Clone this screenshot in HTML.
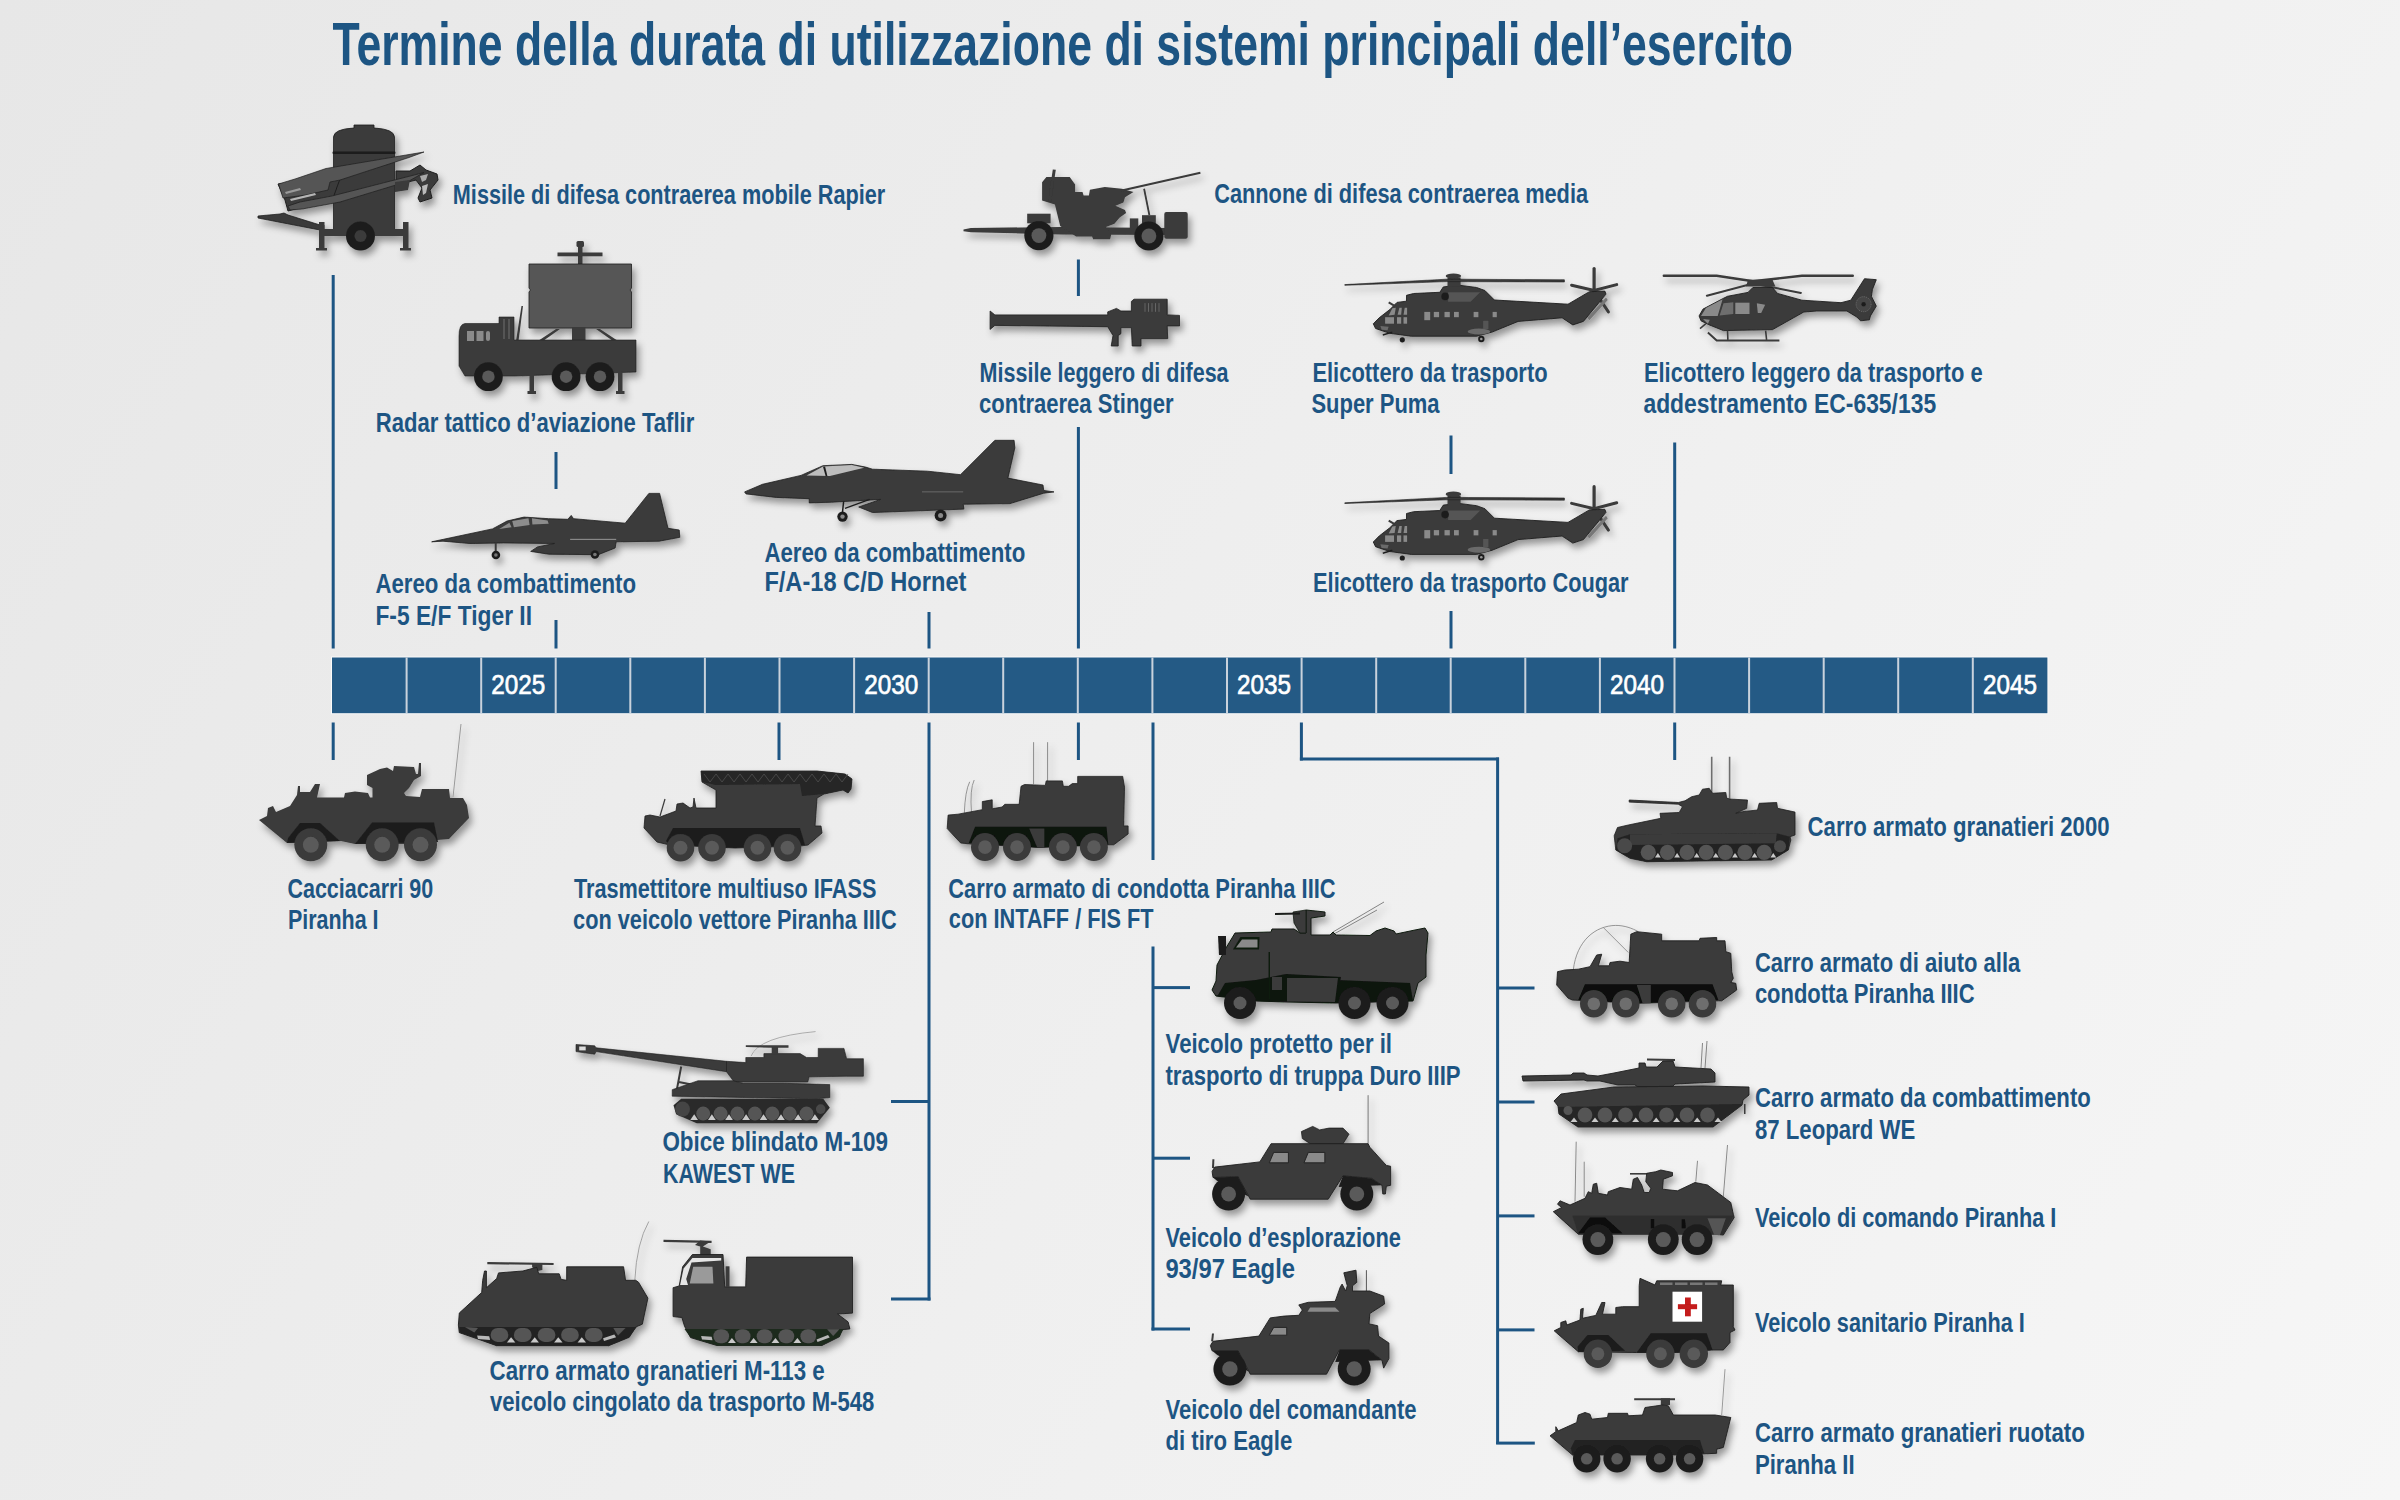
<!DOCTYPE html>
<html><head><meta charset="utf-8"><title>Termine della durata di utilizzazione</title>
<style>html,body{margin:0;padding:0;width:2400px;height:1500px;overflow:hidden;background:#eeeeee}svg{display:block}</style></head>
<body><svg width="2400" height="1500" viewBox="0 0 2400 1500">
<defs>
<linearGradient id="bg" x1="0" y1="0" x2="2400" y2="1500" gradientUnits="userSpaceOnUse">
<stop offset="0" stop-color="#e7e7e7"/><stop offset="1" stop-color="#f6f6f6"/></linearGradient>
<filter id="sh" x="-10%" y="-10%" width="130%" height="140%"><feDropShadow dx="3" dy="5" stdDeviation="3.6" flood-color="#000" flood-opacity="0.38"/></filter>
</defs>
<rect width="2400" height="1500" fill="url(#bg)"/>
<rect x="331.0" y="656.5" width="1717.4" height="57.7" fill="#fafafa"/>
<rect x="332.0" y="657.5" width="1715.4" height="55.7" fill="#245a85"/>
<rect x="405.6" y="657.5" width="2" height="55.7" fill="#c9d2dc"/>
<rect x="480.2" y="657.5" width="2" height="55.7" fill="#c9d2dc"/>
<rect x="554.7" y="657.5" width="2" height="55.7" fill="#c9d2dc"/>
<rect x="629.3" y="657.5" width="2" height="55.7" fill="#c9d2dc"/>
<rect x="703.9" y="657.5" width="2" height="55.7" fill="#c9d2dc"/>
<rect x="778.5" y="657.5" width="2" height="55.7" fill="#c9d2dc"/>
<rect x="853.1" y="657.5" width="2" height="55.7" fill="#c9d2dc"/>
<rect x="927.7" y="657.5" width="2" height="55.7" fill="#c9d2dc"/>
<rect x="1002.2" y="657.5" width="2" height="55.7" fill="#c9d2dc"/>
<rect x="1076.8" y="657.5" width="2" height="55.7" fill="#c9d2dc"/>
<rect x="1151.4" y="657.5" width="2" height="55.7" fill="#c9d2dc"/>
<rect x="1226.0" y="657.5" width="2" height="55.7" fill="#c9d2dc"/>
<rect x="1300.6" y="657.5" width="2" height="55.7" fill="#c9d2dc"/>
<rect x="1375.2" y="657.5" width="2" height="55.7" fill="#c9d2dc"/>
<rect x="1449.7" y="657.5" width="2" height="55.7" fill="#c9d2dc"/>
<rect x="1524.3" y="657.5" width="2" height="55.7" fill="#c9d2dc"/>
<rect x="1598.9" y="657.5" width="2" height="55.7" fill="#c9d2dc"/>
<rect x="1673.5" y="657.5" width="2" height="55.7" fill="#c9d2dc"/>
<rect x="1748.1" y="657.5" width="2" height="55.7" fill="#c9d2dc"/>
<rect x="1822.7" y="657.5" width="2" height="55.7" fill="#c9d2dc"/>
<rect x="1897.2" y="657.5" width="2" height="55.7" fill="#c9d2dc"/>
<rect x="1971.8" y="657.5" width="2" height="55.7" fill="#c9d2dc"/>
<text x="491.2" y="694.4" textLength="54" lengthAdjust="spacingAndGlyphs" font-size="28.5" fill="#fff" stroke="#fff" stroke-width="0.7" font-family="Liberation Sans" font-weight="normal">2025</text>
<text x="864.2" y="694.4" textLength="54" lengthAdjust="spacingAndGlyphs" font-size="28.5" fill="#fff" stroke="#fff" stroke-width="0.7" font-family="Liberation Sans" font-weight="normal">2030</text>
<text x="1237.1" y="694.4" textLength="54" lengthAdjust="spacingAndGlyphs" font-size="28.5" fill="#fff" stroke="#fff" stroke-width="0.7" font-family="Liberation Sans" font-weight="normal">2035</text>
<text x="1610.0" y="694.4" textLength="54" lengthAdjust="spacingAndGlyphs" font-size="28.5" fill="#fff" stroke="#fff" stroke-width="0.7" font-family="Liberation Sans" font-weight="normal">2040</text>
<text x="1982.9" y="694.4" textLength="54" lengthAdjust="spacingAndGlyphs" font-size="28.5" fill="#fff" stroke="#fff" stroke-width="0.7" font-family="Liberation Sans" font-weight="normal">2045</text>
<rect x="331.7" y="275.0" width="3" height="373.5" fill="#1d5583"/>
<rect x="554.5" y="452.0" width="3" height="37.0" fill="#1d5583"/>
<rect x="554.5" y="620.0" width="3" height="28.5" fill="#1d5583"/>
<rect x="927.5" y="612.0" width="3" height="36.5" fill="#1d5583"/>
<rect x="1076.9" y="259.5" width="3" height="36.5" fill="#1d5583"/>
<rect x="1076.9" y="427.0" width="3" height="221.5" fill="#1d5583"/>
<rect x="1449.5" y="435.5" width="3" height="38.5" fill="#1d5583"/>
<rect x="1449.5" y="611.0" width="3" height="37.5" fill="#1d5583"/>
<rect x="1673.2" y="442.5" width="3" height="206.0" fill="#1d5583"/>
<rect x="331.7" y="722.5" width="3" height="37.5" fill="#1d5583"/>
<rect x="777.5" y="722.5" width="3" height="37.5" fill="#1d5583"/>
<rect x="927.5" y="722.5" width="3" height="578.0" fill="#1d5583"/>
<rect x="891.0" y="1100.0" width="38.0" height="3" fill="#1d5583"/>
<rect x="891.0" y="1297.5" width="39.5" height="3" fill="#1d5583"/>
<rect x="1076.9" y="722.5" width="3" height="37.5" fill="#1d5583"/>
<rect x="1151.5" y="722.5" width="3" height="137.5" fill="#1d5583"/>
<rect x="1151.5" y="946.5" width="3" height="384.0" fill="#1d5583"/>
<rect x="1153.0" y="986.1" width="37.0" height="3" fill="#1d5583"/>
<rect x="1153.0" y="1156.7" width="37.0" height="3" fill="#1d5583"/>
<rect x="1151.5" y="1327.5" width="38.5" height="3" fill="#1d5583"/>
<rect x="1299.9" y="722.5" width="3" height="38.0" fill="#1d5583"/>
<rect x="1299.9" y="757.5" width="199.1" height="3" fill="#1d5583"/>
<rect x="1496.1" y="757.5" width="3" height="686.5" fill="#1d5583"/>
<rect x="1497.6" y="986.5" width="36.9" height="3" fill="#1d5583"/>
<rect x="1497.6" y="1100.5" width="36.9" height="3" fill="#1d5583"/>
<rect x="1497.6" y="1214.4" width="36.9" height="3" fill="#1d5583"/>
<rect x="1497.6" y="1328.4" width="36.9" height="3" fill="#1d5583"/>
<rect x="1496.1" y="1441.6" width="38.7" height="3" fill="#1d5583"/>
<rect x="1673.2" y="722.5" width="3" height="37.5" fill="#1d5583"/>
<g filter="url(#sh)">
<g><path d="M258.0,216.0 L280.0,214.0 L284.0,213.0 L288.0,215.0 L320.0,225.0 L324.0,225.0 L324.0,230.0 L320.0,230.0 L258.0,218.0 Z" fill="#3a3a3a" stroke="#1f1f1f" stroke-width="0.8"/><path d="M333.5,230 L333.5,137 Q334,129 354,128 L354,125 L374,125 L374,128 Q394,129 394.5,137 L394.5,230 Z" fill="#3a3a3a" stroke="#1f1f1f" stroke-width="0.8"/><rect x="332.5" y="151.5" width="63" height="2.5" rx="1" fill="#1f1f1f"/><rect x="320" y="229" width="88" height="7" fill="#3a3a3a"/><rect x="319" y="222" width="5.5" height="27" fill="#3a3a3a"/><rect x="316" y="248" width="11" height="2.5" fill="#3a3a3a"/><rect x="403" y="222" width="5.5" height="27" fill="#3a3a3a"/><rect x="400" y="248" width="11" height="2.5" fill="#3a3a3a"/><circle cx="360.5" cy="236" r="14.5" fill="#1f1f1f"/><circle cx="360.5" cy="236" r="6" fill="#3a3a3a"/><path d="M396.0,171.0 L410.0,171.0 L420.0,165.0 L426.0,170.0 L437.0,174.0 L438.0,180.0 L430.0,190.0 L432.0,198.0 L420.0,202.0 L418.0,198.0 L422.0,188.0 L416.0,180.0 L408.0,182.0 L396.0,182.0 Z" fill="#3a3a3a" stroke="#1f1f1f" stroke-width="1"/><path d="M420.0,176.0 L428.0,174.0 L426.0,180.0 L422.0,182.0 Z" fill="#aaa"/><path d="M422.0,186.0 L428.0,184.0 L426.0,193.0 L423.0,195.0 Z" fill="#bbb"/><path d="M278.0,184.0 L340.0,179.0 L333.0,198.0 L306.0,206.0 L288.0,211.0 L285.0,200.0 Z" fill="#3a3a3a" stroke="#1f1f1f" stroke-width="1"/><path d="M278.5,184.0 L295.0,179.0 L326.0,168.5 L424.0,152.0 L409.0,157.5 L340.0,180.0 L330.0,182.0 L328.0,190.0 L306.0,195.0 L283.0,198.0 Z" fill="#555" stroke="#1f1f1f" stroke-width="0.7"/><path d="M288.0,206.0 L300.0,202.0 L332.0,196.0 L424.0,172.5 L409.0,181.0 L340.0,202.0 L302.0,209.0 L290.0,210.0 Z" fill="#555" stroke="#1f1f1f" stroke-width="0.7"/><path d="M395.0,182.0 L410.0,180.0 L408.0,190.0 L395.0,192.0 Z" fill="#3a3a3a"/><path d="M290.0,199.0 L315.0,193.0 L316.0,195.0 L291.0,201.0 Z" fill="#b5b5b5"/><path d="M285.0,192.0 L300.0,188.0 L301.0,190.0 L286.0,194.0 Z" fill="#9a9a9a"/></g>
<g><rect x="578" y="241.5" width="4.5" height="23" fill="#3a3a3a"/><rect x="576.5" y="241" width="7.5" height="6" rx="1.5" fill="#3a3a3a"/><rect x="557.5" y="252.5" width="45" height="3.8" fill="#3a3a3a"/><path d="M529,264 L631.5,264 L631.5,288 L630,290 L631.5,292 L631.5,328 L529,328 L529,292 L530.5,290 L529,288 Z" fill="#575757" stroke="#1f1f1f" stroke-width="0.8"/><rect x="572" y="327" width="13.5" height="14" fill="#3a3a3a"/><path d="M538,341 L556,329 L560,329 L543,341 Z" fill="#3a3a3a"/><path d="M618,341 L600,329 L596,329 L613,341 Z" fill="#3a3a3a"/><path d="M516,341 L521.5,306 L523,306 L518.5,341 Z" fill="#3a3a3a"/><path d="M459,336 Q459,324 465,323.5 L499,323.5 L499,317 L514,317 L514,340 L636,340 L636,372 L515,376 L500,376 L465,376 L459,366 Z" fill="#3a3a3a" stroke="#1f1f1f" stroke-width="0.6"/><rect x="467" y="331" width="7" height="10" fill="#8a8a8a"/><rect x="476.5" y="331" width="7" height="10" fill="#8a8a8a"/><rect x="486" y="331" width="4" height="10" rx="2" fill="#8a8a8a"/><rect x="503" y="319" width="2" height="20" fill="#555"/><rect x="508" y="319" width="2" height="20" fill="#555"/><rect x="529.5" y="372" width="4.5" height="21" fill="#3a3a3a"/><rect x="527.5" y="391" width="8.5" height="3" fill="#3a3a3a"/><rect x="618" y="372" width="4.5" height="21" fill="#3a3a3a"/><rect x="616" y="391" width="8.5" height="3" fill="#3a3a3a"/><circle cx="488.4" cy="376.7" r="14.4" fill="#1f1f1f"/><circle cx="488.4" cy="376.7" r="6.2" fill="#5a5a5a"/><circle cx="566.1" cy="376.7" r="14.4" fill="#1f1f1f"/><circle cx="566.1" cy="376.7" r="6.2" fill="#5a5a5a"/><circle cx="600" cy="376.7" r="14.4" fill="#1f1f1f"/><circle cx="600" cy="376.7" r="6.2" fill="#5a5a5a"/></g>
<g><path d="M431.7,541.8 L492.5,528.9 L507.1,521.0 L524.0,517.1 L548.7,518.7 L567.9,519.3 L571.2,515.4 L573.5,518.7 L625.2,523.2 L648.9,493.4 L659.6,493.4 L668.0,528.3 L679.2,530.0 L679.8,537.3 L659.0,541.2 L616.2,541.8 L615.1,548.0 L598.2,554.7 L548.7,554.2 L530.7,551.4 L537.5,546.9 L554.4,543.5 L503.7,542.9 L470.0,543.5 L443.0,541.2 Z" fill="#3a3a3a" stroke="#1f1f1f" stroke-width="0.8"/><path d="M499.2,528.9 L509.4,522.7 L511.6,527.2 Z" fill="#8c8c8c"/><path d="M513.9,527.2 L512.2,521.0 L528.5,518.2 L529.6,524.9 Z" fill="#8c8c8c"/><path d="M532.4,524.4 L531.9,518.2 L547.6,520.4 L548.7,523.8 Z" fill="#8c8c8c"/><rect x="494.7" y="542.9" width="2" height="9" fill="#3a3a3a"/><circle cx="495.9" cy="555.0" r="4.3" fill="#1f1f1f"/><circle cx="495.9" cy="555.0" r="1.8" fill="#777"/><circle cx="594.9" cy="554.5" r="4.3" fill="#1f1f1f"/><circle cx="594.9" cy="554.5" r="1.8" fill="#777"/><rect x="570.1" y="538.8" width="46.1" height="1.2" fill="#888"/></g>
<g><path d="M744.6,491.9 L762.5,484.3 L801.0,475.4 L823.0,465.7 L851.9,464.4 L865.6,467.1 L872.5,469.2 L927.5,471.2 L960.5,474.7 L994.9,440.3 L1014.1,440.3 L1014.8,447.9 L1007.9,478.1 L1043.0,485.0 L1043.7,490.5 L1054.0,491.9 L1043.7,493.2 L1010.0,503.6 L963.2,504.2 L963.9,509.1 L872.5,512.5 L858.7,507.0 L880.7,499.4 L831.2,502.2 L809.2,502.9 L809.2,498.7 L776.2,497.4 L746.0,493.9 Z" fill="#3a3a3a" stroke="#1f1f1f" stroke-width="0.8"/><path d="M806.5,475.4 L823.0,466.4 L851.9,465.1 L864.2,467.8 L829.9,476.1 Z" fill="#bdbdbd"/><path d="M823.0,466.8 L825.1,466.4 L827.4,476.1 L825.7,476.2 Z" fill="#1f1f1f"/><path d="M843.6,501.5 L842.2,515.2 M845.0,508.4 L869.7,499.4" stroke="#1f1f1f" stroke-width="1.5" fill="none"/><circle cx="842.5" cy="516.6" r="5.2" fill="#1f1f1f"/><circle cx="842.5" cy="516.6" r="2.2" fill="#8a8a8a"/><circle cx="940.6" cy="515.5" r="6" fill="#1f1f1f"/><circle cx="940.6" cy="515.5" r="2.5" fill="#8a8a8a"/><rect x="922.0" y="491.5" width="41.2" height="0.8" fill="#777"/></g>
<g><path d="M963.5,229.6 L970.9,228.0 L1061.2,226.9 L1167.5,228.0 L1167.5,234.9 L1061.2,234.4 L970.9,232.2 L963.5,231.2 Z" fill="#3a3a3a"/><path d="M1042.1,182.3 L1046.4,177.0 L1069.7,177.0 L1075.1,184.4 L1075.1,191.9 L1082.5,191.9 L1083.6,195.6 L1088.9,195.6 L1089.9,189.7 L1104.8,187.1 L1121.8,188.7 L1133.5,191.9 L1125.0,197.2 L1123.4,202.5 L1115.4,205.7 L1125.0,209.9 L1126.1,213.1 L1119.7,217.4 L1114.4,223.7 L1105.9,226.9 L1111.2,234.4 L1110.1,239.2 L1093.1,239.2 L1092.1,236.5 L1076.1,236.5 L1060.2,225.9 L1054.9,204.6 L1042.1,200.4 Z" fill="#3a3a3a"/><path d="M1054.3,169.6 L1049.6,201.4" stroke="#3a3a3a" stroke-width="3"/><path d="M1120.7,190.8 L1200.4,172.7" stroke="#3a3a3a" stroke-width="2"/><path d="M1144.1,188.7 L1149.4,215.2" stroke="#3a3a3a" stroke-width="1.8"/><rect x="1027.2" y="213.7" width="23.4" height="9.6" fill="#3a3a3a"/><rect x="1129.8" y="218.4" width="8.5" height="10.6" fill="#3a3a3a"/><rect x="1142.0" y="215.2" width="13.8" height="8.5" fill="#3a3a3a"/><rect x="1164.3" y="212.1" width="23.4" height="26.6" rx="2" fill="#3a3a3a"/><circle cx="1038.9" cy="235.6" r="14.6" fill="#1f1f1f"/><circle cx="1038.9" cy="235.6" r="7.4" fill="#5a5a5a"/><circle cx="1148.9" cy="236.0" r="14.6" fill="#1f1f1f"/><circle cx="1148.9" cy="236.0" r="7.4" fill="#5a5a5a"/></g>
<g><path d="M990.1,311.0 L994.9,314.9 L1107.7,314.9 L1107.7,311.9 L1116.5,308.4 L1120.9,311.0 L1131.4,311.0 L1131.4,301.4 L1134.0,299.2 L1167.2,299.2 L1167.2,314.9 L1179.5,315.4 L1179.5,325.9 L1167.2,325.9 L1167.7,338.6 L1141.0,338.6 L1141.0,346.0 L1132.2,346.0 L1131.4,327.6 L1120.9,327.6 L1120.9,333.7 L1118.2,335.5 L1118.2,346.0 L1111.2,346.0 L1113.0,335.5 L1107.7,326.7 L994.9,325.4 L990.1,329.4 Z" fill="#3a3a3a" stroke="#1f1f1f" stroke-width="0.8"/><rect x="1144.5" y="303.1" width="1" height="8.7" fill="#666"/><rect x="1148.0" y="303.1" width="1" height="8.7" fill="#666"/><rect x="1151.5" y="303.1" width="1" height="8.7" fill="#666"/><rect x="1155.0" y="303.1" width="1" height="8.7" fill="#666"/><rect x="1158.5" y="303.1" width="1" height="8.7" fill="#666"/></g>
<g><path d="M1594.1,268.5 L1594.1,291.7" stroke="#3a3a3a" stroke-width="3.2" stroke-linecap="round"/><path d="M1571.6,285.2 L1594.1,290.5 L1616.7,284.6 M1594.1,290.5 L1608.4,311.9" stroke="#3a3a3a" stroke-width="3" stroke-linecap="round" fill="none"/><path d="M1373.3,323.8 L1379.2,317.8 L1389.9,309.5 L1397.0,302.4 L1406.5,301.2 L1406.5,295.3 L1413.6,293.5 L1439.8,292.3 L1443.3,286.9 L1458.8,285.2 L1476.6,287.5 L1484.9,290.5 L1494.4,300.0 L1568.0,304.2 L1589.4,291.7 L1604.8,291.1 L1606.0,294.1 L1583.4,321.4 L1572.8,324.9 L1562.1,317.8 L1518.1,321.4 L1492.0,332.1 L1476.6,336.2 L1411.3,336.2 L1389.9,333.3 L1375.6,328.5 Z" fill="#3a3a3a" stroke="#1f1f1f" stroke-width="0.9"/><path d="M1587.0,317.8 L1606.0,297.6 L1607.8,300.0 L1589.4,320.2 Z" fill="#777"/><rect x="1447.5" y="277.4" width="13.1" height="9.5" fill="#3a3a3a"/><ellipse cx="1453.4" cy="276.0" rx="7.7" ry="2.6" fill="#3a3a3a"/><path d="M1344.8,284.6 L1446.9,279.2 L1564.4,279.8 L1564.4,282.0 L1446.9,281.6 L1344.8,285.3 Z" fill="#3a3a3a" stroke="#1f1f1f" stroke-width="0.6"/><path d="M1448.1,292.3 L1480.1,292.3 L1470.6,301.8 L1448.1,301.8 Z" fill="#555"/><circle cx="1445.1" cy="296.4" r="3.8" fill="#1f1f1f"/><rect x="1424.3" y="311.9" width="5.9" height="8.3" fill="#8a8a8a"/><rect x="1433.8" y="311.9" width="5.3" height="5.3" fill="#8a8a8a"/><rect x="1444.5" y="311.9" width="5.3" height="5.3" fill="#8a8a8a"/><rect x="1454.0" y="311.9" width="4.8" height="5.3" fill="#8a8a8a"/><rect x="1473.6" y="311.9" width="4.8" height="5.3" fill="#8a8a8a"/><rect x="1492.6" y="311.9" width="4.2" height="5.3" fill="#8a8a8a"/><rect x="1385.1" y="317.2" width="8.9" height="6.5" fill="#8a8a8a"/><rect x="1397.0" y="317.2" width="4.2" height="6.5" fill="#8a8a8a"/><rect x="1403.5" y="317.2" width="3.6" height="6.5" fill="#8a8a8a"/><path d="M1388.7,315.4 L1392.3,308.3 L1395.8,307.7 L1394.6,314.8 Z" fill="#8a8a8a"/><path d="M1397.6,314.8 L1399.4,307.7 L1401.8,307.7 L1401.2,314.8 Z" fill="#8a8a8a"/><path d="M1403.5,314.8 L1404.7,307.7 L1407.1,307.7 L1407.1,314.8 Z" fill="#8a8a8a"/><ellipse cx="1478.9" cy="331.5" rx="11.3" ry="3.0" fill="#6a6a6a"/><rect x="1483.1" y="320.8" width="5.3" height="8.3" fill="#555"/><path d="M1380.4,326.1 L1388.7,326.7 L1387.5,330.3 L1381.6,329.7 Z" fill="#6a6a6a"/><circle cx="1481.3" cy="339.0" r="3.2" fill="#1f1f1f"/><circle cx="1481.3" cy="339.0" r="1.3" fill="#999"/><circle cx="1402.3" cy="339.8" r="2.6" fill="#1f1f1f"/><path d="M1382.8,335.0 L1392.3,332.1" stroke="#1f1f1f" stroke-width="1.5"/><path d="M1388.7,302.4 L1394.6,305.9" stroke="#3a3a3a" stroke-width="2"/><path d="M1594.1,486.7 L1594.1,509.9" stroke="#3a3a3a" stroke-width="3.2" stroke-linecap="round"/><path d="M1571.6,503.4 L1594.1,508.7 L1616.7,502.8 M1594.1,508.7 L1608.4,530.1" stroke="#3a3a3a" stroke-width="3" stroke-linecap="round" fill="none"/><path d="M1373.3,542.0 L1379.2,536.0 L1389.9,527.7 L1397.0,520.6 L1406.5,519.4 L1406.5,513.5 L1413.6,511.7 L1439.8,510.5 L1443.3,505.1 L1458.8,503.4 L1476.6,505.7 L1484.9,508.7 L1494.4,518.2 L1568.0,522.4 L1589.4,509.9 L1604.8,509.3 L1606.0,512.3 L1583.4,539.6 L1572.8,543.1 L1562.1,536.0 L1518.1,539.6 L1492.0,550.3 L1476.6,554.4 L1411.3,554.4 L1389.9,551.5 L1375.6,546.7 Z" fill="#3a3a3a" stroke="#1f1f1f" stroke-width="0.9"/><path d="M1587.0,536.0 L1606.0,515.8 L1607.8,518.2 L1589.4,538.4 Z" fill="#777"/><rect x="1447.5" y="495.6" width="13.1" height="9.5" fill="#3a3a3a"/><ellipse cx="1453.4" cy="494.2" rx="7.7" ry="2.6" fill="#3a3a3a"/><path d="M1344.8,502.8 L1446.9,497.4 L1564.4,498.0 L1564.4,500.2 L1446.9,499.8 L1344.8,503.5 Z" fill="#3a3a3a" stroke="#1f1f1f" stroke-width="0.6"/><path d="M1448.1,510.5 L1480.1,510.5 L1470.6,520.0 L1448.1,520.0 Z" fill="#555"/><circle cx="1445.1" cy="514.6" r="3.8" fill="#1f1f1f"/><rect x="1424.3" y="530.1" width="5.9" height="8.3" fill="#8a8a8a"/><rect x="1433.8" y="530.1" width="5.3" height="5.3" fill="#8a8a8a"/><rect x="1444.5" y="530.1" width="5.3" height="5.3" fill="#8a8a8a"/><rect x="1454.0" y="530.1" width="4.8" height="5.3" fill="#8a8a8a"/><rect x="1473.6" y="530.1" width="4.8" height="5.3" fill="#8a8a8a"/><rect x="1492.6" y="530.1" width="4.2" height="5.3" fill="#8a8a8a"/><rect x="1385.1" y="535.4" width="8.9" height="6.5" fill="#8a8a8a"/><rect x="1397.0" y="535.4" width="4.2" height="6.5" fill="#8a8a8a"/><rect x="1403.5" y="535.4" width="3.6" height="6.5" fill="#8a8a8a"/><path d="M1388.7,533.6 L1392.3,526.5 L1395.8,525.9 L1394.6,533.0 Z" fill="#8a8a8a"/><path d="M1397.6,533.0 L1399.4,525.9 L1401.8,525.9 L1401.2,533.0 Z" fill="#8a8a8a"/><path d="M1403.5,533.0 L1404.7,525.9 L1407.1,525.9 L1407.1,533.0 Z" fill="#8a8a8a"/><ellipse cx="1478.9" cy="549.7" rx="11.3" ry="3.0" fill="#6a6a6a"/><rect x="1483.1" y="539.0" width="5.3" height="8.3" fill="#555"/><path d="M1380.4,544.3 L1388.7,544.9 L1387.5,548.5 L1381.6,547.9 Z" fill="#6a6a6a"/><circle cx="1481.3" cy="557.2" r="3.2" fill="#1f1f1f"/><circle cx="1481.3" cy="557.2" r="1.3" fill="#999"/><circle cx="1402.3" cy="558.0" r="2.6" fill="#1f1f1f"/><path d="M1382.8,553.2 L1392.3,550.3" stroke="#1f1f1f" stroke-width="1.5"/><path d="M1388.7,520.6 L1394.6,524.1" stroke="#3a3a3a" stroke-width="2"/></g>
<g><path d="M1663.8,275.8 L1716.7,275.8 L1752.9,281.2 L1801.9,275.8 L1852.8,275.8" stroke="#3a3a3a" stroke-width="2.4" fill="none" stroke-linecap="round"/><path d="M1706.9,295.8 L1752.9,283.6 L1800.9,292.9" stroke="#3a3a3a" stroke-width="2" fill="none" stroke-linecap="round"/><path d="M1699.1,315.9 L1703.0,309.1 L1723.5,298.3 L1727.5,296.3 L1748.0,292.4 L1752.9,287.5 L1772.5,287.5 L1777.4,293.4 L1801.9,300.2 L1841.0,302.7 L1850.8,300.2 L1864.5,278.7 L1876.3,279.7 L1872.4,289.5 L1871.4,296.3 L1876.3,306.1 L1870.4,315.9 L1869.4,319.8 L1860.6,320.8 L1856.7,316.9 L1846.9,311.0 L1836.1,311.0 L1816.6,311.0 L1803.8,312.0 L1772.5,329.6 L1723.5,330.6 L1708.9,324.7 L1701.0,320.8 Z" fill="#3a3a3a" stroke="#1f1f1f" stroke-width="0.9"/><path d="M1748.0,279.7 L1772.5,279.7 L1775.4,286.5 L1746.1,286.5 Z" fill="#3a3a3a"/><path d="M1701.0,315.9 L1705.9,308.1 L1722.6,299.3 L1717.7,315.9 Z" fill="#8a8a8a"/><path d="M1719.6,315.4 L1723.5,303.2 L1733.3,302.2 L1733.3,314.0 Z" fill="#6e6e6e"/><rect x="1735.3" y="302.7" width="14.2" height="11.3" fill="#8a8a8a"/><path d="M1756.8,303.2 L1765.2,304.7 L1761.2,313.0 L1757.8,313.0 Z" fill="#8a8a8a"/><path d="M1703.0,318.9 L1709.8,319.8 L1707.9,323.7 Z" fill="#8a8a8a"/><path d="M1707.9,332.6 L1716.7,340.4 L1779.4,340.4" stroke="#3a3a3a" stroke-width="2" fill="none"/><path d="M1727.5,330.6 L1727.9,339.9 M1765.6,330.6 L1766.6,339.9" stroke="#3a3a3a" stroke-width="1.6" fill="none"/><path d="M1700.0,328.6 L1705.9,323.7" stroke="#3a3a3a" stroke-width="1.5" fill="none"/><circle cx="1863.6" cy="304.2" r="7.5" fill="#444" stroke="#777" stroke-width="0.8" stroke-dasharray="1.2 1"/><circle cx="1863.6" cy="304.2" r="2.2" fill="#1f1f1f"/></g>
<g><path d="M453.0,797.0 L461.0,724.0" stroke="#9a9a9a" stroke-width="1"/><path d="M259.0,820.0 L267.0,816.0 L268.0,808.0 L273.0,806.0 L276.0,812.0 L290.0,806.0 L297.0,795.0 L298.0,786.0 L300.0,786.0 L300.0,792.0 L310.0,792.0 L315.0,784.0 L320.0,784.0 L317.0,797.5 L344.0,797.5 L345.0,793.0 L355.0,791.5 L368.0,793.0 L370.0,797.5 L372.5,797.5 L372.5,788.0 L367.0,785.0 L367.0,775.0 L380.0,769.0 L387.0,767.5 L393.0,771.0 L394.0,766.0 L414.0,767.0 L416.0,774.0 L418.0,774.0 L419.0,763.0 L421.0,763.0 L421.0,776.0 L414.0,780.0 L409.0,788.0 L404.0,793.0 L406.0,796.0 L420.0,797.0 L422.0,789.0 L449.0,789.0 L450.0,798.0 L463.0,798.0 L467.0,805.0 L469.0,818.0 L449.0,839.0 L437.0,840.0 L434.0,844.0 L355.0,844.0 L341.0,841.0 L287.0,843.0 Z" fill="#3a3a3a"/><path d="M288.0,838.0 L300.0,823.0 L320.0,823.0 L340.0,841.0 L287.0,843.0 Z" fill="#1f1f1f"/><path d="M355.0,844.0 L372.0,822.5 L434.0,822.5 L438.0,842.0 Z" fill="#1f1f1f"/><circle cx="310.8" cy="844.8" r="16.5" fill="#3a3a3a"/><circle cx="310.8" cy="844.8" r="8" fill="#5a5a5a"/><circle cx="382.2" cy="844.8" r="16.5" fill="#3a3a3a"/><circle cx="382.2" cy="844.8" r="8" fill="#5a5a5a"/><circle cx="420.5" cy="844.8" r="16.5" fill="#3a3a3a"/><circle cx="420.5" cy="844.8" r="8" fill="#5a5a5a"/></g>
<g><path d="M644.0,828.0 L645.0,816.0 L650.0,815.0 L660.0,817.0 L676.0,811.0 L677.0,804.0 L683.0,803.0 L690.0,808.0 L693.0,807.0 L694.0,798.0 L696.0,808.0 L716.0,808.0 L716.0,790.0 L702.0,782.0 L701.0,771.0 L817.0,771.0 L845.0,774.0 L852.0,779.0 L851.0,789.0 L848.0,793.0 L843.0,790.0 L824.0,794.0 L817.0,798.0 L815.0,826.0 L821.0,826.0 L822.0,833.0 L808.0,845.0 L800.0,846.0 L735.0,848.0 L670.0,845.0 L657.0,842.0 Z" fill="#3a3a3a" stroke="#1f1f1f" stroke-width="0.8"/><path d="M701.0,771.0 L817.0,771.0 L845.0,774.0 L852.0,779.0 L851.0,789.0 L848.0,793.0 L843.0,790.0 L824.0,794.0 L802.0,796.0 L800.0,784.0 L716.0,785.0 L702.0,782.0 Z" fill="#262626"/><path d="M704.0,774.0 L710.0,782.0 L716.0,774.0" stroke="#555" stroke-width="0.7" fill="none"/><path d="M716.0,774.0 L722.0,782.0 L728.0,774.0" stroke="#555" stroke-width="0.7" fill="none"/><path d="M728.0,774.0 L734.0,782.0 L740.0,774.0" stroke="#555" stroke-width="0.7" fill="none"/><path d="M740.0,774.0 L746.0,782.0 L752.0,774.0" stroke="#555" stroke-width="0.7" fill="none"/><path d="M752.0,774.0 L758.0,782.0 L764.0,774.0" stroke="#555" stroke-width="0.7" fill="none"/><path d="M764.0,774.0 L770.0,782.0 L776.0,774.0" stroke="#555" stroke-width="0.7" fill="none"/><path d="M776.0,774.0 L782.0,782.0 L788.0,774.0" stroke="#555" stroke-width="0.7" fill="none"/><path d="M788.0,774.0 L794.0,782.0 L800.0,774.0" stroke="#555" stroke-width="0.7" fill="none"/><path d="M800.0,774.0 L806.0,782.0 L812.0,774.0" stroke="#555" stroke-width="0.7" fill="none"/><path d="M812.0,774.0 L818.0,782.0 L824.0,774.0" stroke="#555" stroke-width="0.7" fill="none"/><path d="M824.0,774.0 L830.0,782.0 L836.0,774.0" stroke="#555" stroke-width="0.7" fill="none"/><path d="M836.0,774.0 L842.0,782.0 L848.0,774.0" stroke="#555" stroke-width="0.7" fill="none"/><path d="M665.0,799.0 L660.0,816.0" stroke="#3a3a3a" stroke-width="1.2"/><path d="M666.0,841.0 L673.0,828.0 L800.0,828.0 L805.0,845.0 L735.0,848.0 L670.0,845.0 Z" fill="#1f1f1f"/><circle cx="680.5" cy="847.8" r="13.8" fill="#3a3a3a"/><circle cx="680.5" cy="847.8" r="7" fill="#5a5a5a"/><circle cx="712.0" cy="847.8" r="13.8" fill="#3a3a3a"/><circle cx="712.0" cy="847.8" r="7" fill="#5a5a5a"/><circle cx="757.5" cy="847.8" r="13.8" fill="#3a3a3a"/><circle cx="757.5" cy="847.8" r="7" fill="#5a5a5a"/><circle cx="787.5" cy="847.8" r="13.8" fill="#3a3a3a"/><circle cx="787.5" cy="847.8" r="7" fill="#5a5a5a"/></g>
<g><path d="M1033.6,742.2 L1033.6,784.1 M1047.6,742.2 L1047.6,781.4" stroke="#8a8a8a" stroke-width="1"/><path d="M974.2,780.0 Q969.7,789.0 971.5,813.3 M969.7,781.8 Q965.2,790.8 964.3,813.3" stroke="#8a8a8a" stroke-width="0.9" fill="none"/><path d="M947.2,828.6 L948.1,815.1 L958.0,814.2 L982.3,809.7 L982.3,801.6 L992.2,799.8 L992.2,808.8 L1002.1,807.0 L1004.8,804.3 L1019.2,804.3 L1021.0,786.3 L1024.6,784.5 L1045.3,785.4 L1046.2,780.9 L1062.4,780.9 L1063.3,786.3 L1068.7,786.3 L1072.3,783.6 L1077.7,783.6 L1077.7,776.4 L1122.7,776.4 L1124.5,787.2 L1123.6,825.9 L1128.1,825.9 L1128.1,834.0 L1113.7,844.8 L1106.5,844.8 L1039.0,847.5 L969.7,843.9 L960.7,843.0 Z" fill="#3a3a3a" stroke="#1f1f1f" stroke-width="0.8"/><path d="M968.8,843.0 L975.1,826.8 L1106.5,826.8 L1108.3,844.8 L1039.0,847.5 Z" fill="#0f120f"/><path d="M1029.1,828.6 L1044.4,828.6 L1044.4,847.5 L1037.2,847.5 Z" fill="#3a3a3a"/><circle cx="985.0" cy="847.1" r="14" fill="#3a3a3a"/><circle cx="985.0" cy="847.1" r="6.8" fill="#5a5a5a"/><circle cx="1017.0" cy="847.1" r="14" fill="#3a3a3a"/><circle cx="1017.0" cy="847.1" r="6.8" fill="#5a5a5a"/><circle cx="1062.9" cy="847.1" r="14" fill="#3a3a3a"/><circle cx="1062.9" cy="847.1" r="6.8" fill="#5a5a5a"/><circle cx="1093.9" cy="847.1" r="14" fill="#3a3a3a"/><circle cx="1093.9" cy="847.1" r="6.8" fill="#5a5a5a"/></g>
<g><path d="M1711.7,756.7 L1711.7,793.3 M1729.6,756.7 L1729.6,798.3" stroke="#6e6e6e" stroke-width="1.6"/><path d="M1614.2,835.8 L1617.5,827.5 L1628.3,825.0 L1660.8,818.3 L1660.0,813.3 L1679.2,812.5 L1682.5,806.7 L1678.3,804.2 L1629.2,802.1 L1629.2,800.0 L1678.3,802.5 L1685.0,800.8 L1691.7,796.7 L1699.2,795.0 L1702.5,789.2 L1709.2,788.3 L1712.5,793.3 L1725.8,792.5 L1726.7,798.3 L1731.7,799.2 L1747.5,800.0 L1746.7,808.3 L1735.8,813.3 L1742.5,811.7 L1757.5,810.0 L1759.2,803.3 L1776.7,802.5 L1777.5,808.3 L1795.0,812.1 L1795.0,835.0 L1790.0,836.7 L1790.8,840.0 L1788.3,850.0 L1771.7,860.0 L1646.7,861.7 L1630.0,858.3 L1615.8,850.0 Z" fill="#3a3a3a" stroke="#1f1f1f" stroke-width="0.8"/><path d="M1615.8,850.0 L1617.5,838.3 L1630.0,834.2 L1776.7,833.3 L1790.0,836.7 L1788.3,850.0 L1771.7,860.0 L1646.7,861.7 L1630.0,858.3 Z" fill="#242424"/><path d="M1630.0,834.2 L1776.7,833.3 L1775.8,843.3 L1630.0,845.0 Z" fill="#3a3a3a"/><circle cx="1648.3" cy="852.3" r="7.6" fill="#555"/><circle cx="1667.5" cy="852.3" r="7.6" fill="#555"/><circle cx="1687.1" cy="852.3" r="7.6" fill="#555"/><circle cx="1706.2" cy="852.3" r="7.6" fill="#555"/><circle cx="1725.4" cy="852.3" r="7.6" fill="#555"/><circle cx="1745.0" cy="852.3" r="7.6" fill="#555"/><circle cx="1764.2" cy="852.3" r="7.6" fill="#555"/><path d="M1657.9,852.9 L1660.8,857.5 L1655.0,857.5 Z" fill="#c9c9c9"/><path d="M1677.1,852.9 L1680.0,857.5 L1674.2,857.5 Z" fill="#c9c9c9"/><path d="M1696.7,852.9 L1699.6,857.5 L1693.8,857.5 Z" fill="#c9c9c9"/><path d="M1715.8,852.9 L1718.8,857.5 L1712.9,857.5 Z" fill="#c9c9c9"/><path d="M1735.0,852.9 L1737.9,857.5 L1732.1,857.5 Z" fill="#c9c9c9"/><path d="M1754.6,852.9 L1757.5,857.5 L1751.7,857.5 Z" fill="#c9c9c9"/><path d="M1773.3,852.9 L1776.2,857.5 L1770.4,857.5 Z" fill="#c9c9c9"/><circle cx="1624.6" cy="845.8" r="7.5" fill="#4a4a4a"/><circle cx="1780.0" cy="846.2" r="6" fill="#4a4a4a"/></g>
<g><path d="M1333.0,932.0 L1384.0,902.0 M1334.0,934.0 L1377.0,910.0" stroke="#777" stroke-width="0.9"/><path d="M1212.0,990.0 L1216.0,981.0 L1217.0,965.0 L1226.0,948.0 L1235.0,933.0 L1271.0,932.0 L1272.0,929.0 L1294.0,929.0 L1300.0,933.0 L1306.0,933.0 L1306.0,910.0 L1325.0,912.0 L1325.0,916.0 L1311.0,918.0 L1311.0,935.0 L1330.0,935.0 L1333.0,932.0 L1336.0,935.0 L1370.0,935.5 L1376.0,931.0 L1385.0,928.0 L1394.0,931.0 L1396.0,934.0 L1415.0,930.0 L1425.0,928.0 L1428.0,933.0 L1426.0,955.0 L1426.0,977.0 L1418.0,983.0 L1413.0,1001.0 L1336.0,1003.0 L1287.0,1002.0 L1256.0,1001.0 L1216.0,996.0 Z" fill="#3a3a3a" stroke="#111a11" stroke-width="1"/><path d="M1293.0,912.0 L1306.0,910.0 L1306.0,933.0 L1300.0,933.0 L1294.0,923.0 Z" fill="#3a3a3a" stroke="#111a11" stroke-width="0.8"/><path d="M1275.0,914.0 L1300.0,913.5" stroke="#1a1f1a" stroke-width="2"/><path d="M1218.0,936.0 L1226.0,936.0 L1226.0,955.0 L1219.0,955.0 Z" fill="#1f1f1f"/><path d="M1233.0,949.5 L1240.5,937.0 L1259.5,937.0 L1259.0,949.5 Z" fill="#111a11"/><path d="M1236.0,947.5 L1242.0,939.5 L1257.5,939.5 L1257.5,947.5 Z" fill="#8a8a8a"/><path d="M1218.0,995.0 L1225.0,983.0 L1256.0,980.0 L1256.0,1001.0 L1216.0,996.0 Z" fill="#0f130f"/><path d="M1337.0,980.0 L1410.0,983.0 L1413.0,1001.0 L1336.0,1003.0 Z" fill="#0f130f"/><path d="M1256.0,980.0 L1286.0,974.0 L1341.0,977.0 L1336.0,1003.0 L1256.0,1001.0 Z" fill="#0f130f"/><path d="M1287.0,978.0 L1338.0,978.0 L1335.0,1002.0 L1287.0,1001.5 Z" fill="#3a3a3a"/><rect x="1272.0" y="977.0" width="10.0" height="13.0" fill="#3a3a3a"/><rect x="1268.5" y="952.0" width="1.5" height="47.0" fill="#111a11"/><circle cx="1240.0" cy="1003.0" r="16" fill="#1c1c1c"/><circle cx="1240.0" cy="1003.0" r="6.5" fill="#5a5a5a"/><circle cx="1354.5" cy="1003.0" r="16" fill="#1c1c1c"/><circle cx="1354.5" cy="1003.0" r="6.5" fill="#5a5a5a"/><circle cx="1392.5" cy="1003.0" r="16" fill="#1c1c1c"/><circle cx="1392.5" cy="1003.0" r="6.5" fill="#5a5a5a"/></g>
<g><path d="M751.0,1056.2 Q758.7,1036.8 815.6,1031.6" stroke="#9a9a9a" stroke-width="0.8" fill="none"/><path d="M681.2,1066.5 L676.7,1090.4 M678.7,1082.0 L691.6,1084.6" stroke="#3a3a3a" stroke-width="2" fill="none"/><path d="M576.0,1044.5 L594.7,1045.8 L596.0,1047.8 L726.5,1061.3 L726.5,1071.7 L596.0,1051.6 L594.7,1054.2 L576.0,1051.6 Z" fill="#3a3a3a" stroke="#1f1f1f" stroke-width="0.6"/><path d="M579.2,1046.5 L585.7,1046.5 L585.7,1050.4 L579.2,1050.4 Z" fill="#ddd"/><path d="M745.8,1045.2 L788.5,1045.2 L788.5,1047.8 L778.1,1047.8 L778.1,1053.6 L771.7,1053.6 L771.7,1047.8 L745.8,1047.1 Z" fill="#3a3a3a"/><path d="M726.5,1061.3 L745.8,1062.6 L745.8,1057.5 L763.9,1057.5 L763.9,1053.6 L800.1,1053.6 L806.5,1057.5 L818.2,1057.5 L818.2,1048.4 L844.0,1048.4 L846.6,1058.7 L863.4,1058.7 L863.4,1076.2 L846.6,1076.2 L809.1,1076.8 L807.8,1082.0 L784.6,1082.0 L743.2,1082.0 L734.2,1082.0 L726.5,1071.7 Z" fill="#3a3a3a" stroke="#1f1f1f" stroke-width="0.6"/><path d="M672.2,1089.7 L698.0,1080.7 L732.9,1080.7 L743.2,1083.3 L784.6,1083.3 L829.8,1084.6 L829.8,1097.5 L816.9,1098.8 L672.2,1096.2 Z" fill="#3a3a3a" stroke="#1f1f1f" stroke-width="0.6"/><path d="M673.5,1105.2 L681.2,1098.8 L823.3,1098.8 L829.8,1107.8 L816.9,1123.3 L696.7,1123.3 L676.1,1114.3 Z" fill="#2a2a2a"/><circle cx="703.2" cy="1113.6" r="7" fill="#555"/><circle cx="720.6" cy="1113.6" r="7" fill="#555"/><circle cx="737.4" cy="1113.6" r="7" fill="#555"/><circle cx="754.9" cy="1113.6" r="7" fill="#555"/><circle cx="772.3" cy="1113.6" r="7" fill="#555"/><circle cx="789.7" cy="1113.6" r="7" fill="#555"/><circle cx="806.5" cy="1113.6" r="7" fill="#555"/><path d="M694.2,1114.3 L698.0,1120.1 L690.3,1120.1 Z" fill="#c9c9c9"/><path d="M711.9,1114.3 L715.7,1120.1 L708.0,1120.1 Z" fill="#c9c9c9"/><path d="M729.0,1114.3 L732.9,1120.1 L725.2,1120.1 Z" fill="#c9c9c9"/><path d="M746.1,1114.3 L750.0,1120.1 L742.2,1120.1 Z" fill="#c9c9c9"/><path d="M763.5,1114.3 L767.4,1120.1 L759.7,1120.1 Z" fill="#c9c9c9"/><path d="M781.0,1114.3 L784.8,1120.1 L777.1,1120.1 Z" fill="#c9c9c9"/><path d="M798.1,1114.3 L802.0,1120.1 L794.3,1120.1 Z" fill="#c9c9c9"/><path d="M814.9,1114.3 L818.8,1120.1 L811.1,1120.1 Z" fill="#c9c9c9"/><circle cx="682.5" cy="1109.1" r="7.5" fill="#444"/><circle cx="820.7" cy="1109.1" r="4.8" fill="#4a4a4a"/></g>
<g><path d="M634.8,1280.3 Q636.7,1243.0 648.8,1221.5" stroke="#9a9a9a" stroke-width="0.9" fill="none"/><path d="M487.3,1263.1 L553.6,1264.0" stroke="#3a3a3a" stroke-width="2.2"/><path d="M532.1,1263.5 L542.4,1263.5 L542.4,1270.1 L537.7,1271.0 L532.1,1267.3 Z" fill="#3a3a3a"/><path d="M458.4,1325.1 L459.3,1313.0 L481.7,1292.5 L482.7,1280.3 L484.5,1271.0 L486.4,1271.0 L486.4,1287.8 L496.7,1278.5 L498.5,1272.9 L522.8,1271.0 L536.8,1267.3 L538.7,1273.8 L559.2,1273.8 L561.1,1279.4 L566.7,1280.3 L566.7,1266.8 L623.6,1266.8 L625.5,1280.3 L635.7,1280.3 L638.5,1282.2 L647.9,1298.1 L642.3,1324.2 L635.7,1327.0 L629.2,1337.3 L608.7,1345.7 L496.7,1345.7 L478.0,1339.1 L459.3,1332.6 Z" fill="#3a3a3a" stroke="#1f1f1f" stroke-width="0.9"/><path d="M459.3,1327.0 L636.7,1327.0 L629.2,1337.3 L608.7,1345.7 L496.7,1345.7 L478.0,1339.1 L459.3,1332.6 Z" fill="#242424"/><rect x="490.6" y="1327.9" width="17.7" height="14.0" rx="7" fill="#555"/><rect x="513.9" y="1327.9" width="17.7" height="14.0" rx="7" fill="#555"/><rect x="537.7" y="1327.9" width="17.7" height="14.0" rx="7" fill="#555"/><rect x="561.1" y="1327.9" width="17.7" height="14.0" rx="7" fill="#555"/><rect x="584.9" y="1327.9" width="17.7" height="14.0" rx="7" fill="#555"/><path d="M613.3,1327.9 L625.5,1327.9 L618.0,1335.4 Z" fill="#555"/><path d="M511.1,1337.3 L515.3,1342.4 L506.9,1342.4 Z" fill="#c9c9c9"/><path d="M534.7,1337.3 L538.9,1342.4 L530.5,1342.4 Z" fill="#c9c9c9"/><path d="M558.3,1337.3 L562.5,1342.4 L554.1,1342.4 Z" fill="#c9c9c9"/><path d="M581.8,1337.3 L586.0,1342.4 L577.6,1342.4 Z" fill="#c9c9c9"/><path d="M477.1,1335.4 L489.2,1336.3 L490.1,1340.1 L478.0,1339.1 Z" fill="#b8b8b8"/><path d="M603.1,1338.2 L614.3,1334.5 L616.1,1337.3 L604.0,1341.0 Z" fill="#b8b8b8"/><path d="M464.9,1327.0 L478.0,1327.9 L474.3,1332.6 Z" fill="#555"/><path d="M663.5,1240.9 L711.6,1241.8" stroke="#3a3a3a" stroke-width="2.2"/><path d="M695.0,1244.9 L700.2,1240.5 L710.7,1241.4 L702.9,1246.6 L710.7,1249.2 L710.7,1255.4 L700.2,1255.4 L700.2,1246.6 Z" fill="#3a3a3a"/><path d="M673.1,1316.6 L673.1,1287.7 L679.2,1286.0 L682.7,1266.7 L692.4,1254.5 L723.0,1254.5 L724.7,1286.9 L745.7,1286.9 L746.6,1257.1 L852.5,1257.1 L852.5,1313.1 L837.6,1314.0 L848.1,1321.9 L849.9,1328.9 L842.0,1329.7 L839.4,1336.7 L821.9,1345.5 L716.9,1345.5 L690.6,1337.6 L684.5,1326.2 L681.9,1317.5 Z" fill="#3a3a3a" stroke="#1f1f1f" stroke-width="0.9"/><path d="M680.1,1285.1 L683.6,1268.5 L692.4,1258.0 L721.2,1258.0 L721.2,1260.6 L691.5,1262.4 L686.2,1279.0 L688.0,1285.1 Z" fill="#e6e6e6"/><path d="M689.7,1283.4 L693.2,1266.7 L712.5,1266.7 L713.4,1283.4 Z" fill="#9a9a9a"/><rect x="725.6" y="1266.3" width="3.9" height="21.0" fill="#3a3a3a"/><path d="M684.5,1328.9 L843.7,1328.9 L839.4,1336.7 L821.9,1345.5 L716.9,1345.5 L690.6,1337.6 Z" fill="#1f2a1f"/><rect x="713.4" y="1329.3" width="15.7" height="14.0" rx="7" fill="#555"/><rect x="734.8" y="1329.3" width="15.7" height="14.0" rx="7" fill="#555"/><rect x="756.7" y="1329.3" width="15.7" height="14.0" rx="7" fill="#555"/><rect x="778.5" y="1329.3" width="15.7" height="14.0" rx="7" fill="#555"/><rect x="800.4" y="1329.3" width="15.7" height="14.0" rx="7" fill="#555"/><path d="M827.1,1329.3 L839.4,1329.3 L833.2,1335.9 Z" fill="#555"/><path d="M731.9,1338.0 L735.9,1342.9 L728.0,1342.9 Z" fill="#c9c9c9"/><path d="M753.6,1338.0 L757.6,1342.9 L749.7,1342.9 Z" fill="#c9c9c9"/><path d="M775.5,1338.0 L779.4,1342.9 L771.5,1342.9 Z" fill="#c9c9c9"/><path d="M797.4,1338.0 L801.3,1342.9 L793.4,1342.9 Z" fill="#c9c9c9"/><path d="M701.1,1335.9 L711.6,1336.7 L712.5,1340.2 L702.0,1339.4 Z" fill="#b8b8b8"/><path d="M816.6,1339.4 L828.0,1335.0 L829.7,1337.6 L817.5,1342.0 Z" fill="#b8b8b8"/></g>
<g><path d="M1368.1,1095.2 L1368.1,1143.7" stroke="#777" stroke-width="1"/><path d="M1301.4,1131.6 L1312.7,1126.4 L1319.6,1129.9 L1329.1,1128.1 L1343.0,1128.1 L1349.0,1134.2 L1343.0,1143.7 L1310.1,1143.7 L1302.3,1138.5 Z" fill="#3a3a3a" stroke="#1f1f1f" stroke-width="0.8"/><path d="M1212.1,1171.5 L1214.7,1167.1 L1259.8,1161.9 L1271.1,1143.7 L1368.1,1143.7 L1369.8,1147.2 L1386.3,1165.4 L1390.6,1166.3 L1390.6,1185.3 L1386.3,1186.2 L1385.4,1194.0 L1382.8,1194.0 L1382.0,1185.3 L1371.6,1178.4 L1343.0,1175.8 L1328.2,1199.2 L1250.3,1199.2 L1238.1,1176.7 L1213.0,1177.5 Z" fill="#3a3a3a" stroke="#1f1f1f" stroke-width="0.9"/><path d="M1213.0,1177.5 L1238.1,1176.7 L1248.5,1196.6 L1217.3,1181.0 Z" fill="#1f1f1f"/><path d="M1343.0,1175.8 L1371.6,1178.4 L1382.0,1185.3 L1338.6,1187.1 Z" fill="#1f1f1f"/><path d="M1213.4,1159.3 L1213.0,1168.0" stroke="#3a3a3a" stroke-width="2"/><path d="M1269.3,1162.8 L1273.7,1152.4 L1288.4,1152.4 L1288.4,1162.8 Z" fill="#8a8a8a" stroke="#1f1f1f" stroke-width="0.9"/><path d="M1304.0,1162.8 L1308.3,1152.4 L1324.8,1152.4 L1324.8,1162.8 Z" fill="#8a8a8a" stroke="#1f1f1f" stroke-width="0.9"/><circle cx="1228.6" cy="1194.0" r="16.5" fill="#1c1c1c"/><circle cx="1228.6" cy="1194.0" r="7.4" fill="#5a5a5a"/><circle cx="1356.8" cy="1194.0" r="16.5" fill="#1c1c1c"/><circle cx="1356.8" cy="1194.0" r="7.4" fill="#5a5a5a"/><path d="M1366.4,1270.2 L1366.4,1317.0" stroke="#555" stroke-width="1"/><path d="M1210.4,1345.6 L1213.0,1341.3 L1258.9,1336.1 L1270.2,1317.9 L1284.1,1316.1 L1298.8,1315.3 L1302.3,1310.1 L1298.8,1304.9 L1308.3,1302.3 L1335.2,1301.4 L1340.4,1286.7 L1342.1,1284.1 L1345.6,1291.0 L1347.3,1285.8 L1343.8,1272.8 L1356.0,1270.2 L1356.8,1282.3 L1352.5,1285.8 L1352.5,1291.0 L1369.8,1291.0 L1383.7,1296.2 L1384.6,1304.0 L1369.8,1313.5 L1369.0,1323.9 L1377.6,1325.7 L1378.5,1336.1 L1388.9,1343.0 L1388.9,1358.6 L1383.7,1368.1 L1382.0,1360.3 L1369.0,1349.9 L1339.5,1349.9 L1326.5,1374.2 L1250.3,1374.2 L1238.1,1350.8 L1212.1,1350.8 Z" fill="#3a3a3a" stroke="#1f1f1f" stroke-width="0.9"/><path d="M1212.1,1350.8 L1238.1,1350.8 L1248.5,1371.6 L1217.3,1355.1 Z" fill="#1f1f1f"/><path d="M1339.5,1349.9 L1369.0,1349.9 L1382.0,1360.3 L1335.2,1362.1 Z" fill="#1f1f1f"/><path d="M1213.0,1333.5 L1212.1,1341.3" stroke="#3a3a3a" stroke-width="2"/><path d="M1269.3,1335.2 L1273.7,1327.4 L1286.7,1327.4 L1286.7,1335.2 Z" fill="#8a8a8a" stroke="#1f1f1f" stroke-width="0.9"/><path d="M1307.5,1311.8 L1310.1,1307.5 L1335.2,1307.5 L1339.5,1311.8 Z" fill="#8a8a8a"/><circle cx="1229.9" cy="1369.0" r="16.5" fill="#1c1c1c"/><circle cx="1229.9" cy="1369.0" r="7.7" fill="#5a5a5a"/><circle cx="1354.2" cy="1369.0" r="16.5" fill="#1c1c1c"/><circle cx="1354.2" cy="1369.0" r="7.7" fill="#5a5a5a"/></g>
<g><path d="M1573.3,970.0 C1576.7,940.8 1595.0,925.8 1615.8,925.4 C1624.2,925.4 1632.5,928.3 1638.3,931.7 M1603.3,927.5 L1628.3,952.5" stroke="#8a8a8a" stroke-width="0.9" fill="none"/><path d="M1556.7,985.0 L1557.5,971.7 L1565.0,970.0 L1578.3,969.2 L1590.0,966.7 L1596.7,955.0 L1601.7,954.2 L1598.3,965.8 L1609.2,965.8 L1610.0,962.5 L1620.0,961.2 L1629.2,962.5 L1630.8,934.2 L1636.7,931.7 L1661.7,934.2 L1661.7,940.8 L1699.2,940.8 L1700.0,938.3 L1716.7,937.5 L1716.7,940.8 L1725.0,940.8 L1725.8,951.7 L1730.8,953.3 L1731.7,971.7 L1733.3,978.3 L1730.8,982.5 L1735.8,983.3 L1736.7,990.0 L1721.7,1000.8 L1718.3,1000.8 L1636.7,1003.3 L1572.5,1000.0 L1568.3,998.3 Z" fill="#3a3a3a" stroke="#1f1f1f" stroke-width="0.9"/><path d="M1578.3,1000.0 L1585.0,984.2 L1712.5,984.2 L1718.3,1000.0 L1636.7,1003.3 Z" fill="#070a07"/><path d="M1636.7,985.0 L1650.8,985.0 L1650.8,1003.3 L1642.5,1003.3 Z" fill="#3a3a3a"/><circle cx="1593.8" cy="1003.8" r="13.8" fill="#3a3a3a"/><circle cx="1593.8" cy="1003.8" r="6.3" fill="#6e6e6e"/><circle cx="1625.8" cy="1003.8" r="13.8" fill="#3a3a3a"/><circle cx="1625.8" cy="1003.8" r="6.3" fill="#6e6e6e"/><circle cx="1671.7" cy="1003.8" r="13.8" fill="#3a3a3a"/><circle cx="1671.7" cy="1003.8" r="6.3" fill="#6e6e6e"/><circle cx="1702.5" cy="1003.8" r="13.8" fill="#3a3a3a"/><circle cx="1702.5" cy="1003.8" r="6.3" fill="#6e6e6e"/></g>
<g><path d="M1702.5,1043.0 L1701.0,1068.0 M1707.0,1041.0 L1705.0,1068.0" stroke="#777" stroke-width="0.9"/><path d="M1647.0,1058.5 L1675.0,1059.0 L1675.0,1061.0 L1647.0,1060.5 Z" fill="#3a3a3a"/><path d="M1522.0,1076.0 L1571.0,1075.0 L1573.0,1073.0 L1584.0,1073.0 L1587.0,1075.0 L1598.0,1076.0 L1614.0,1073.0 L1639.0,1068.0 L1639.0,1063.0 L1645.0,1063.0 L1646.0,1067.0 L1657.0,1067.0 L1663.0,1061.0 L1673.0,1061.0 L1675.0,1067.0 L1711.0,1069.0 L1715.0,1073.0 L1715.0,1082.0 L1675.0,1084.0 L1672.0,1087.0 L1638.0,1087.0 L1635.0,1085.0 L1618.0,1085.0 L1600.0,1081.0 L1587.0,1081.0 L1584.0,1080.0 L1523.0,1081.0 Z" fill="#3a3a3a" stroke="#1f1f1f" stroke-width="0.9"/><path d="M1554.0,1101.0 L1561.0,1094.0 L1614.0,1087.0 L1703.0,1086.0 L1749.0,1087.0 L1749.0,1095.0 L1743.0,1100.0 L1742.0,1105.0 L1713.0,1127.0 L1578.0,1127.0 L1559.0,1114.0 L1558.0,1106.0 Z" fill="#3a3a3a" stroke="#1f1f1f" stroke-width="0.9"/><path d="M1558.0,1107.0 L1741.0,1104.0 L1742.0,1105.0 L1713.0,1127.0 L1578.0,1127.0 L1559.0,1114.0 Z" fill="#262626"/><path d="M1574.0,1117.5 L1577.5,1122.0 L1570.5,1122.0 Z" fill="#c9c9c9"/><path d="M1595.0,1117.5 L1598.5,1122.0 L1591.5,1122.0 Z" fill="#c9c9c9"/><path d="M1615.3,1117.5 L1618.8,1122.0 L1611.8,1122.0 Z" fill="#c9c9c9"/><path d="M1635.7,1117.5 L1639.2,1122.0 L1632.2,1122.0 Z" fill="#c9c9c9"/><path d="M1656.2,1117.5 L1659.7,1122.0 L1652.7,1122.0 Z" fill="#c9c9c9"/><path d="M1676.7,1117.5 L1680.2,1122.0 L1673.2,1122.0 Z" fill="#c9c9c9"/><path d="M1697.2,1117.5 L1700.7,1122.0 L1693.7,1122.0 Z" fill="#c9c9c9"/><path d="M1718.0,1117.5 L1721.5,1122.0 L1714.5,1122.0 Z" fill="#c9c9c9"/><circle cx="1568.0" cy="1110.5" r="4.5" fill="#555"/><circle cx="1585.0" cy="1115.0" r="7.4" fill="#555"/><circle cx="1605.0" cy="1115.0" r="7.4" fill="#555"/><circle cx="1625.5" cy="1115.0" r="7.4" fill="#555"/><circle cx="1646.0" cy="1115.0" r="7.4" fill="#555"/><circle cx="1666.5" cy="1115.0" r="7.4" fill="#555"/><circle cx="1687.0" cy="1115.0" r="7.4" fill="#555"/><circle cx="1707.5" cy="1115.0" r="7.4" fill="#555"/><rect x="1744.0" y="1104.0" width="1.5" height="10" fill="#3a3a3a"/></g>
<g><path d="M1576.2,1141.7 L1575.0,1201.7" stroke="#8a8a8a" stroke-width="1"/><path d="M1584.2,1161.7 L1584.2,1196.7" stroke="#8a8a8a" stroke-width="1"/><path d="M1697.5,1160.8 L1695.8,1181.7" stroke="#8a8a8a" stroke-width="1"/><path d="M1727.5,1145.0 L1723.3,1196.7" stroke="#8a8a8a" stroke-width="1"/><path d="M1630.0,1173.8 L1655.8,1173.8" stroke="#3a3a3a" stroke-width="1.6"/><path d="M1553.3,1211.7 L1561.7,1207.5 L1557.5,1204.2 L1560.0,1200.8 L1570.0,1205.0 L1585.0,1198.3 L1588.3,1191.7 L1591.7,1193.3 L1593.3,1184.2 L1596.7,1183.3 L1598.3,1193.3 L1607.5,1195.0 L1608.3,1191.7 L1620.0,1187.5 L1631.7,1189.2 L1633.3,1179.2 L1637.5,1177.5 L1641.7,1185.0 L1644.2,1192.5 L1649.2,1192.5 L1650.8,1188.3 L1645.8,1181.7 L1646.7,1173.3 L1655.8,1171.7 L1660.8,1170.0 L1672.5,1172.5 L1672.5,1175.8 L1663.3,1179.2 L1662.5,1189.2 L1677.5,1190.8 L1695.0,1182.5 L1707.5,1185.0 L1724.2,1197.5 L1730.8,1202.5 L1733.3,1214.2 L1734.2,1217.5 L1723.3,1235.0 L1713.3,1234.2 L1678.3,1234.2 L1578.3,1234.2 Z" fill="#3a3a3a" stroke="#1f1f1f" stroke-width="0.9"/><path d="M1572.5,1215.8 L1733.3,1215.8 L1723.3,1235.0 L1713.3,1234.2 L1678.3,1234.2 L1578.3,1234.2 Z" fill="#2e2e2e"/><path d="M1578.3,1233.3 L1590.0,1217.5 L1605.0,1217.5 L1622.5,1233.3 Z" fill="#0a0a0a"/><path d="M1707.5,1218.3 L1725.8,1218.3 L1720.0,1235.0 L1714.2,1235.0 Z" fill="#555"/><path d="M1650.8,1219.2 L1654.2,1219.2 L1654.2,1228.3 L1650.8,1228.3 Z" fill="#0a0a0a"/><path d="M1681.7,1219.2 L1685.0,1219.2 L1685.8,1228.3 L1681.7,1228.3 Z" fill="#0a0a0a"/><circle cx="1597.9" cy="1239.6" r="15.4" fill="#1c1c1c"/><circle cx="1597.9" cy="1239.6" r="7.5" fill="#5a5a5a"/><circle cx="1663.3" cy="1239.6" r="15.4" fill="#1c1c1c"/><circle cx="1663.3" cy="1239.6" r="7.5" fill="#5a5a5a"/><circle cx="1697.1" cy="1239.6" r="15.4" fill="#1c1c1c"/><circle cx="1697.1" cy="1239.6" r="7.5" fill="#5a5a5a"/></g>
<g><path d="M1554.2,1330.8 L1560.8,1327.5 L1560.8,1322.5 L1565.8,1320.8 L1566.7,1325.0 L1580.0,1320.0 L1580.8,1309.2 L1583.3,1308.3 L1582.5,1318.3 L1595.8,1315.4 L1601.7,1302.5 L1605.0,1302.5 L1602.5,1314.2 L1615.8,1314.2 L1615.8,1307.5 L1622.5,1306.7 L1639.2,1306.7 L1639.2,1285.8 L1640.0,1278.3 L1655.0,1285.0 L1656.7,1280.8 L1721.7,1280.8 L1720.8,1285.0 L1733.3,1285.0 L1733.3,1326.7 L1735.0,1330.0 L1730.0,1332.5 L1730.0,1342.5 L1723.3,1350.0 L1711.7,1350.0 L1676.7,1352.5 L1636.7,1352.5 L1578.3,1351.7 Z" fill="#3a3a3a" stroke="#1f1f1f" stroke-width="0.9"/><rect x="1660.0" y="1282.5" width="12.5" height="2.5" fill="#777"/><rect x="1675.0" y="1282.5" width="12.5" height="2.5" fill="#777"/><rect x="1690.0" y="1282.5" width="12.5" height="2.5" fill="#777"/><rect x="1705.0" y="1282.5" width="12.5" height="2.5" fill="#777"/><path d="M1577.5,1346.7 L1587.5,1335.0 L1608.3,1335.0 L1625.0,1350.8 L1578.3,1351.7 Z" fill="#1c1c1c"/><path d="M1636.7,1352.5 L1650.8,1333.3 L1706.7,1333.3 L1712.5,1350.0 L1676.7,1352.5 Z" fill="#1c1c1c"/><rect x="1672.5" y="1291.7" width="29.6" height="30.0" fill="#ffffff"/><rect x="1685.0" y="1297.5" width="5.8" height="18.8" fill="#c41a1a"/><rect x="1677.9" y="1304.2" width="19.2" height="5.0" fill="#c41a1a"/><circle cx="1597.9" cy="1353.8" r="14.2" fill="#3a3a3a"/><circle cx="1597.9" cy="1353.8" r="6.5" fill="#5a5a5a"/><circle cx="1660.4" cy="1353.8" r="14.2" fill="#3a3a3a"/><circle cx="1660.4" cy="1353.8" r="6.5" fill="#5a5a5a"/><circle cx="1693.8" cy="1353.8" r="14.2" fill="#3a3a3a"/><circle cx="1693.8" cy="1353.8" r="6.5" fill="#5a5a5a"/></g>
<g><path d="M1725.0,1369.2 L1721.7,1415.0" stroke="#9a9a9a" stroke-width="1"/><path d="M1634.2,1399.2 L1675.0,1399.2" stroke="#3a3a3a" stroke-width="2"/><path d="M1660.8,1398.3 L1670.0,1398.3 L1670.0,1405.0 L1660.8,1405.0 Z" fill="#3a3a3a"/><path d="M1550.0,1435.8 L1555.8,1431.7 L1555.8,1426.7 L1558.3,1430.8 L1576.7,1422.5 L1578.3,1415.0 L1585.0,1412.5 L1590.0,1414.2 L1591.7,1419.2 L1607.5,1417.5 L1608.3,1413.3 L1627.5,1413.3 L1628.3,1415.8 L1642.5,1415.0 L1645.0,1407.5 L1662.5,1405.0 L1668.3,1405.8 L1673.3,1415.0 L1715.0,1415.0 L1730.8,1417.5 L1723.3,1447.5 L1716.7,1449.2 L1716.7,1453.3 L1673.3,1455.0 L1572.5,1455.0 Z" fill="#3a3a3a" stroke="#1f1f1f" stroke-width="0.9"/><path d="M1570.8,1448.3 L1575.0,1440.0 L1700.0,1440.0 L1704.2,1453.3 L1673.3,1455.0 L1572.5,1455.0 Z" fill="#232323"/><circle cx="1586.7" cy="1458.8" r="13.75" fill="#1c1c1c"/><circle cx="1586.7" cy="1458.8" r="5.8" fill="#5a5a5a"/><circle cx="1617.1" cy="1458.8" r="13.75" fill="#1c1c1c"/><circle cx="1617.1" cy="1458.8" r="5.8" fill="#5a5a5a"/><circle cx="1659.6" cy="1458.8" r="13.75" fill="#1c1c1c"/><circle cx="1659.6" cy="1458.8" r="5.8" fill="#5a5a5a"/><circle cx="1689.6" cy="1458.8" r="13.75" fill="#1c1c1c"/><circle cx="1689.6" cy="1458.8" r="5.8" fill="#5a5a5a"/></g>
</g>
<g font-family="Liberation Sans" font-weight="bold" font-size="28.49" fill="#1d5583">
<text x="332.5" y="65" textLength="1460.5" lengthAdjust="spacingAndGlyphs" font-size="60.5" font-weight="bold" fill="#1d5583" font-family="Liberation Sans">Termine della durata di utilizzazione di sistemi principali dell’esercito</text>
<text x="452.8" y="203.5" textLength="432.5" lengthAdjust="spacingAndGlyphs">Missile di difesa contraerea mobile Rapier</text>
<text x="1214.2" y="203.3" textLength="373.9" lengthAdjust="spacingAndGlyphs">Cannone di difesa contraerea media</text>
<text x="375.7" y="432.3" textLength="318.6" lengthAdjust="spacingAndGlyphs">Radar tattico d’aviazione Taflir</text>
<text x="979.6" y="381.9" textLength="249.0" lengthAdjust="spacingAndGlyphs">Missile leggero di difesa</text>
<text x="979.0" y="413.1" textLength="194.6" lengthAdjust="spacingAndGlyphs">contraerea Stinger</text>
<text x="1312.4" y="381.5" textLength="235.2" lengthAdjust="spacingAndGlyphs">Elicottero da trasporto</text>
<text x="1311.4" y="412.7" textLength="128.2" lengthAdjust="spacingAndGlyphs">Super Puma</text>
<text x="1643.9" y="381.5" textLength="338.7" lengthAdjust="spacingAndGlyphs">Elicottero leggero da trasporto e</text>
<text x="1643.4" y="412.7" textLength="292.8" lengthAdjust="spacingAndGlyphs">addestramento EC-635/135</text>
<text x="375.4" y="592.7" textLength="260.7" lengthAdjust="spacingAndGlyphs">Aereo da combattimento</text>
<text x="375.4" y="624.7" textLength="156.6" lengthAdjust="spacingAndGlyphs">F-5 E/F Tiger II</text>
<text x="764.4" y="561.5" textLength="260.9" lengthAdjust="spacingAndGlyphs">Aereo da combattimento</text>
<text x="764.4" y="591.2" textLength="202.0" lengthAdjust="spacingAndGlyphs">F/A-18 C/D Hornet</text>
<text x="1313.1" y="591.7" textLength="315.5" lengthAdjust="spacingAndGlyphs">Elicottero da trasporto Cougar</text>
<text x="287.4" y="897.9" textLength="145.9" lengthAdjust="spacingAndGlyphs">Cacciacarri 90</text>
<text x="287.9" y="928.5" textLength="90.6" lengthAdjust="spacingAndGlyphs">Piranha I</text>
<text x="573.9" y="897.9" textLength="302.5" lengthAdjust="spacingAndGlyphs">Trasmettitore multiuso IFASS</text>
<text x="573.1" y="928.5" textLength="323.5" lengthAdjust="spacingAndGlyphs">con veicolo vettore Piranha IIIC</text>
<text x="948.2" y="897.9" textLength="387.4" lengthAdjust="spacingAndGlyphs">Carro armato di condotta Piranha IIIC</text>
<text x="948.8" y="927.7" textLength="204.8" lengthAdjust="spacingAndGlyphs">con INTAFF / FIS FT</text>
<text x="1807.6" y="835.8" textLength="302.0" lengthAdjust="spacingAndGlyphs">Carro armato granatieri 2000</text>
<text x="1165.6" y="1053.0" textLength="226.4" lengthAdjust="spacingAndGlyphs">Veicolo protetto per il</text>
<text x="1165.4" y="1084.6" textLength="295.2" lengthAdjust="spacingAndGlyphs">trasporto di truppa Duro IIIP</text>
<text x="662.4" y="1150.7" textLength="225.7" lengthAdjust="spacingAndGlyphs">Obice blindato M-109</text>
<text x="663.0" y="1182.5" textLength="131.9" lengthAdjust="spacingAndGlyphs">KAWEST WE</text>
<text x="1165.4" y="1247.3" textLength="235.5" lengthAdjust="spacingAndGlyphs">Veicolo d’esplorazione</text>
<text x="1165.4" y="1278.3" textLength="129.6" lengthAdjust="spacingAndGlyphs">93/97 Eagle</text>
<text x="489.5" y="1379.9" textLength="335.3" lengthAdjust="spacingAndGlyphs">Carro armato granatieri M-113 e</text>
<text x="490.0" y="1410.6" textLength="384.3" lengthAdjust="spacingAndGlyphs">veicolo cingolato da trasporto M-548</text>
<text x="1165.4" y="1418.7" textLength="251.2" lengthAdjust="spacingAndGlyphs">Veicolo del comandante</text>
<text x="1165.4" y="1450.3" textLength="126.9" lengthAdjust="spacingAndGlyphs">di tiro Eagle</text>
<text x="1754.9" y="971.8" textLength="265.4" lengthAdjust="spacingAndGlyphs">Carro armato di aiuto alla</text>
<text x="1754.9" y="1003.3" textLength="219.7" lengthAdjust="spacingAndGlyphs">condotta Piranha IIIC</text>
<text x="1754.9" y="1107.2" textLength="335.9" lengthAdjust="spacingAndGlyphs">Carro armato da combattimento</text>
<text x="1754.9" y="1138.7" textLength="160.4" lengthAdjust="spacingAndGlyphs">87 Leopard WE</text>
<text x="1754.9" y="1226.5" textLength="301.4" lengthAdjust="spacingAndGlyphs">Veicolo di comando Piranha I</text>
<text x="1754.9" y="1331.8" textLength="269.9" lengthAdjust="spacingAndGlyphs">Veicolo sanitario Piranha I</text>
<text x="1754.9" y="1442.2" textLength="329.9" lengthAdjust="spacingAndGlyphs">Carro armato granatieri ruotato</text>
<text x="1754.9" y="1474.2" textLength="99.7" lengthAdjust="spacingAndGlyphs">Piranha II</text>
</g>
</svg></body></html>
